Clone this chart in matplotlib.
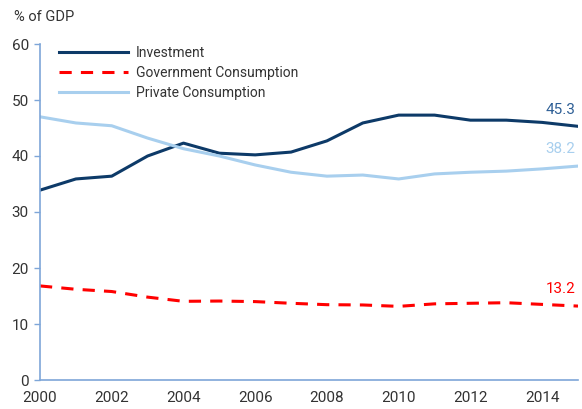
import matplotlib
matplotlib.use("Agg")
import matplotlib.pyplot as plt
from matplotlib import font_manager

years = list(range(2000, 2016))
investment = [33.9, 35.9, 36.4, 40.0, 42.3, 40.5, 40.2, 40.7, 42.7, 45.9, 47.3, 47.3, 46.4, 46.4, 46.0, 45.3]
gov_consumption = [16.8, 16.2, 15.8, 14.8, 14.05, 14.1, 14.0, 13.7, 13.45, 13.4, 13.15, 13.6, 13.7, 13.8, 13.5, 13.2]
private_consumption = [47.0, 45.9, 45.4, 43.2, 41.3, 40.0, 38.4, 37.1, 36.4, 36.6, 35.9, 36.8, 37.1, 37.3, 37.7, 38.2]
xticks = [2000, 2002, 2004, 2006, 2008, 2010, 2012, 2014]
yticks = [0, 10, 20, 30, 40, 50, 60]

names = {f.name for f in font_manager.fontManager.ttflist}
fam = 'Liberation Sans Narrow' if 'Liberation Sans Narrow' in names else 'Roboto'
plt.rcParams['font.family'] = [fam, 'DejaVu Sans']

c_inv = '#0d3a68'
c_gov = '#ff0000'
c_priv = '#a8cfee'
c_axis = '#7ea6d8'
txt = '#333333'

fig = plt.figure(figsize=(5.82, 4.09), dpi=100)
ax = fig.add_axes([40/582, 1-380/409, 538/582, 336/409])

ax.plot(years, investment, color=c_inv, lw=2.2, label='Investment')
ax.plot(years, gov_consumption, color=c_gov, lw=2.2, ls=(0, (4, 3)), label='Government Consumption')
ax.plot(years, private_consumption, color=c_priv, lw=2.2, label='Private Consumption')

ax.set_xlim(2000, 2015)
ax.set_ylim(0, 60)
ax.set_xticks(xticks)
ax.set_yticks(yticks)
ax.tick_params(axis='x', length=0, pad=8, labelsize=11, colors=txt)
ax.tick_params(axis='y', length=4, width=1, color=c_axis, pad=4, labelsize=11, labelcolor=txt)
for s in ['top', 'right']:
    ax.spines[s].set_visible(False)
for s in ['left', 'bottom']:
    ax.spines[s].set_color(c_axis)
    ax.spines[s].set_linewidth(1.2)

ax.text(-0.048, 1.08, '% of GDP', transform=ax.transAxes, fontsize=10.5, color=txt, ha='left', va='center')

leg = ax.legend(loc='upper left', bbox_to_anchor=(0.025, 1.012), frameon=False, fontsize=10,
                handlelength=5.0, handletextpad=0.55, labelspacing=0.45, borderaxespad=0.0)
for t in leg.get_texts():
    t.set_color(txt)

ax.annotate(f'{investment[-1]:.1f}', (years[-1], investment[-1]), xytext=(-2, 12), textcoords='offset points',
            ha='right', va='center', fontsize=11, color='#2e5f96')
ax.annotate(f'{private_consumption[-1]:.1f}', (years[-1], private_consumption[-1]), xytext=(-2, 12), textcoords='offset points',
            ha='right', va='center', fontsize=11, color=c_priv)
ax.annotate(f'{gov_consumption[-1]:.1f}', (years[-1], gov_consumption[-1]), xytext=(-2, 12), textcoords='offset points',
            ha='right', va='center', fontsize=11, color=c_gov)

fig.savefig('out.png', dpi=100)
